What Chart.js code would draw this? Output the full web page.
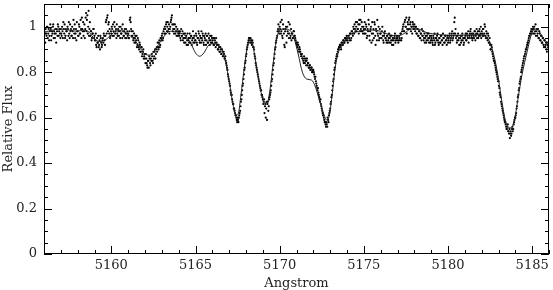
<!DOCTYPE html>
<html>
<head>
<meta charset="utf-8">
<script src="https://cdn.jsdelivr.net/npm/chart.js@4.4.1/dist/chart.umd.min.js"></script>
<style>
  html, body { margin: 0; padding: 0; background: #fff; }
  #wrap { width: 553px; height: 290px; position: relative; }
</style>
</head>
<body>
<div id="wrap"><canvas id="spectrum"></canvas></div>
<script>
// observed spectrum, two interleaved samplings every 0.05 A (one row per Angstrom)
const obsStep = 0.05;
const obsStartA = 5156.0;
const obsFluxA = [
  0.95,0.97,0.99,0.96,1.00,0.97,0.94,0.98,0.99,0.96,0.97,1.01,0.98,0.95,0.97,0.99,0.96,1.00,0.98,0.97, // 5156
  0.99,0.96,0.98,1.02,0.97,0.95,0.99,0.98,1.00,0.96,0.97,1.01,0.99,0.96,0.98,1.03,0.97,0.95,0.99,1.02, // 5157
  0.98,0.96,1.00,0.97,0.99,1.04,0.98,0.96,1.01,0.99,1.06,1.03,0.97,1.07,0.99,0.96,0.98,0.95,0.97,0.99, // 5158
  0.96,0.94,0.92,0.95,0.93,0.91,0.94,0.96,0.93,0.92,0.95,0.97,0.94,0.96,1.03,1.04,0.98,1.02,0.99,0.96, // 5159
  0.97,0.99,1.01,0.96,1.00,0.98,0.95,0.97,0.99,0.96,0.98,1.00,0.97,0.95,0.98,0.96,0.99,0.97,0.95,0.98, // 5160
  0.97,0.95,1.03,1.02,0.98,0.96,0.94,0.97,0.95,0.93,0.96,0.92,0.94,0.90,0.92,0.89,0.91,0.88,0.90,0.87, // 5161
  0.86,0.88,0.84,0.82,0.85,0.87,0.84,0.86,0.88,0.85,0.89,0.87,0.90,0.88,0.91,0.93,0.90,0.94,0.92,0.95, // 5162
  0.96,0.94,0.98,0.97,0.99,1.01,0.98,1.02,0.99,0.97,1.00,1.03,1.05,0.98,1.01,0.99,0.97,1.00,0.98,0.96, // 5163
  0.98,0.97,0.95,0.99,0.96,0.94,0.97,0.95,0.93,0.96,0.94,0.92,0.95,0.97,0.93,0.96,0.94,0.98,0.95,0.93, // 5164
  0.94,0.96,0.92,0.95,0.97,0.93,0.95,0.98,0.94,0.96,0.92,0.95,0.97,0.94,0.96,0.93,0.95,0.92,0.94,0.96, // 5165
  0.93,0.95,0.92,0.94,0.91,0.93,0.92,0.90,0.91,0.89,0.90,0.88,0.89,0.87,0.88,0.86,0.85,0.83,0.81,0.78, // 5166
  0.76,0.74,0.71,0.70,0.67,0.66,0.64,0.62,0.61,0.59,0.60,0.58,0.61,0.63,0.67,0.70,0.74,0.77,0.81,0.84, // 5167
  0.87,0.90,0.92,0.94,0.95,0.93,0.94,0.92,0.93,0.91,0.88,0.86,0.83,0.81,0.79,0.77,0.75,0.73,0.72,0.70, // 5168
  0.68,0.67,0.62,0.66,0.64,0.59,0.67,0.65,0.69,0.71,0.74,0.77,0.81,0.84,0.88,0.91,0.94,0.96,0.99,0.98, // 5169
  1.00,1.02,0.98,0.96,1.01,0.97,0.91,0.99,0.93,1.00,0.97,0.95,1.01,0.96,0.94,0.97,0.95,0.98,0.96,0.94, // 5170
  0.93,0.91,0.92,0.89,0.90,0.88,0.87,0.86,0.85,0.87,0.84,0.86,0.85,0.83,0.84,0.82,0.83,0.81,0.82,0.80, // 5171
  0.81,0.79,0.77,0.76,0.74,0.72,0.71,0.69,0.67,0.66,0.64,0.62,0.61,0.59,0.58,0.56,0.57,0.60,0.58,0.62, // 5172
  0.64,0.67,0.70,0.74,0.77,0.81,0.84,0.86,0.88,0.89,0.90,0.91,0.92,0.90,0.93,0.92,0.94,0.93,0.95,0.94, // 5173
  0.95,0.93,0.96,0.94,0.97,0.95,0.98,0.96,0.99,1.01,0.98,1.00,1.02,0.99,0.97,1.01,1.03,0.98,1.00,0.97, // 5174
  0.99,1.02,0.97,1.00,0.96,0.98,1.01,0.94,0.99,0.93,1.02,0.97,0.95,1.01,0.92,0.98,1.03,0.96,0.94,0.99, // 5175
  0.97,0.95,1.00,0.94,0.96,0.98,0.95,0.93,0.96,0.94,0.97,0.95,0.93,0.96,0.94,0.92,0.95,0.97,0.94,0.96, // 5176
  0.95,0.93,0.96,0.94,0.97,0.95,0.99,1.01,0.98,1.03,1.00,0.97,1.02,0.99,1.04,1.01,0.98,1.00,1.02,0.99, // 5177
  1.01,0.98,1.00,0.97,0.99,0.96,0.98,0.95,0.97,0.99,0.96,0.94,0.97,0.95,0.93,0.96,0.94,0.97,0.95,0.93, // 5178
  0.96,0.94,0.92,0.95,0.97,0.93,0.95,0.96,0.94,0.92,0.95,0.93,0.96,0.94,0.97,0.95,0.93,0.96,0.94,0.95, // 5179
  0.93,0.95,0.97,0.94,0.96,0.98,0.95,0.97,1.04,0.99,0.96,0.94,0.97,0.95,0.92,0.96,0.94,0.97,0.95,0.93, // 5180
  0.95,0.97,0.94,0.96,0.98,0.95,0.97,0.99,0.96,0.94,0.97,0.95,0.98,0.96,0.99,0.97,0.95,0.98,0.96,1.00, // 5181
  0.98,0.96,0.99,0.97,1.00,0.95,0.97,0.94,0.96,0.93,0.92,0.90,0.91,0.88,0.86,0.85,0.83,0.81,0.79,0.77, // 5182
  0.76,0.73,0.70,0.67,0.65,0.63,0.61,0.59,0.58,0.56,0.55,0.57,0.54,0.55,0.53,0.52,0.55,0.54,0.57,0.59, // 5183
  0.60,0.62,0.65,0.69,0.72,0.75,0.77,0.80,0.82,0.84,0.86,0.87,0.89,0.90,0.92,0.93,0.95,0.96,0.97,0.99, // 5184
  0.98,1.00,0.99,0.97,1.01,0.98,0.96,0.99,0.95,0.97,0.94,0.96,0.93,0.95,0.91,0.94,0.92,0.90,0.93,0.91, // 5185
  0.92
];
const obsStartB = 5156.025;
const obsFluxB = [
  0.98,0.93,0.97,1.00,0.95,0.99,0.96,1.01,0.94,0.98,1.00,0.95,0.97,0.99,0.93,0.98,1.01,0.96,0.99,0.95, // 5156
  0.97,1.00,0.95,0.99,1.01,0.96,0.98,0.94,0.99,1.02,0.95,0.98,0.96,1.00,0.95,0.99,1.01,0.97,0.94,0.98, // 5157
  0.96,1.01,0.97,1.03,0.95,0.99,1.02,0.98,0.95,1.04,0.98,1.05,1.00,0.96,1.02,0.98,0.94,0.97,0.99,0.95, // 5158
  0.94,0.97,0.91,0.93,0.96,0.92,0.90,0.95,0.91,0.94,0.93,0.96,0.92,1.02,0.97,1.05,1.01,0.97,0.95,0.98, // 5159
  1.00,0.96,0.98,1.02,0.97,0.99,1.01,0.96,0.98,1.00,0.95,0.97,0.99,1.01,0.96,0.98,0.95,0.99,0.97,0.96, // 5160
  0.95,0.98,1.04,0.99,0.96,0.98,0.95,0.93,0.96,0.94,0.91,0.95,0.91,0.93,0.89,0.91,0.87,0.89,0.86,0.88, // 5161
  0.84,0.86,0.83,0.85,0.82,0.86,0.83,0.85,0.87,0.84,0.86,0.89,0.86,0.90,0.89,0.91,0.93,0.91,0.95,0.94, // 5162
  0.97,0.95,0.99,1.00,0.97,1.02,1.00,0.98,1.01,0.99,1.02,1.04,1.01,0.99,0.97,1.01,0.98,0.96,0.99,0.97, // 5163
  0.96,0.98,0.94,0.96,0.98,0.95,0.93,0.97,0.95,0.92,0.97,0.94,0.93,0.95,0.96,0.92,0.95,0.93,0.96,0.94, // 5164
  0.97,0.93,0.95,0.98,0.94,0.96,0.93,0.95,0.97,0.93,0.96,0.94,0.92,0.96,0.93,0.97,0.94,0.96,0.93,0.95, // 5165
  0.94,0.92,0.95,0.93,0.95,0.92,0.90,0.92,0.89,0.91,0.88,0.90,0.87,0.89,0.86,0.87,0.84,0.82,0.79,0.77, // 5166
  0.75,0.72,0.70,0.68,0.66,0.64,0.63,0.61,0.60,0.58,0.59,0.60,0.62,0.65,0.68,0.72,0.75,0.79,0.82,0.85, // 5167
  0.88,0.91,0.93,0.95,0.94,0.95,0.93,0.94,0.91,0.90,0.87,0.84,0.82,0.80,0.78,0.76,0.74,0.72,0.70,0.69, // 5168
  0.66,0.68,0.65,0.60,0.67,0.66,0.63,0.68,0.70,0.72,0.76,0.79,0.83,0.86,0.90,0.93,0.95,0.98,1.01,0.97, // 5169
  0.99,0.97,1.03,0.95,0.99,0.92,0.98,1.00,0.96,0.98,1.02,0.97,0.95,0.99,0.97,0.95,0.98,0.96,0.95,0.93, // 5170
  0.92,0.93,0.90,0.91,0.89,0.87,0.88,0.86,0.84,0.86,0.85,0.83,0.86,0.84,0.82,0.83,0.81,0.82,0.80,0.81, // 5171
  0.80,0.78,0.78,0.75,0.73,0.73,0.70,0.68,0.68,0.65,0.63,0.61,0.60,0.58,0.57,0.58,0.56,0.59,0.61,0.63, // 5172
  0.66,0.69,0.72,0.76,0.79,0.82,0.85,0.87,0.87,0.90,0.91,0.92,0.91,0.93,0.92,0.94,0.93,0.95,0.94,0.96, // 5173
  0.94,0.96,0.95,0.97,0.94,0.98,0.97,1.00,0.97,0.99,1.02,0.98,0.99,1.01,1.03,0.98,0.99,1.02,0.98,1.00, // 5174
  0.97,0.99,1.01,0.95,0.99,1.03,0.96,0.98,1.00,0.97,0.94,0.99,1.02,0.96,0.99,0.94,0.97,1.00,0.95,0.97, // 5175
  0.95,0.98,0.96,0.93,0.97,0.95,0.94,0.96,0.93,0.95,0.93,0.96,0.94,0.92,0.95,0.94,0.96,0.93,0.95,0.94, // 5176
  0.96,0.94,0.95,0.97,0.94,0.98,1.00,0.98,1.02,1.00,1.04,0.99,1.01,1.03,0.99,1.02,1.00,0.97,1.01,1.00, // 5177
  0.99,1.00,0.97,0.99,0.96,0.98,0.95,0.97,0.94,0.96,0.98,0.95,0.93,0.96,0.94,0.97,0.95,0.93,0.96,0.94, // 5178
  0.95,0.93,0.96,0.94,0.92,0.95,0.94,0.97,0.93,0.95,0.93,0.96,0.94,0.92,0.95,0.93,0.96,0.94,0.92,0.96, // 5179
  0.94,0.96,0.93,0.95,0.97,0.94,0.96,1.02,0.97,0.95,0.93,0.96,0.94,0.92,0.95,0.93,0.96,0.94,0.92,0.95, // 5180
  0.96,0.94,0.97,0.95,0.93,0.96,0.98,0.95,0.97,0.95,0.96,0.98,0.94,0.97,0.95,0.98,0.96,0.99,0.97,0.95, // 5181
  0.97,0.99,0.96,1.01,0.96,0.98,0.95,0.97,0.93,0.95,0.90,0.92,0.89,0.87,0.85,0.84,0.82,0.80,0.78,0.76, // 5182
  0.74,0.71,0.69,0.66,0.64,0.62,0.60,0.58,0.57,0.55,0.56,0.54,0.53,0.51,0.54,0.53,0.56,0.55,0.58,0.60, // 5183
  0.61,0.64,0.67,0.70,0.73,0.76,0.78,0.81,0.83,0.85,0.87,0.88,0.90,0.91,0.93,0.94,0.96,0.97,0.98,0.97, // 5184
  0.99,0.97,1.00,0.98,0.96,0.99,0.97,0.95,0.98,0.94,0.96,0.93,0.95,0.92,0.94,0.91,0.93,0.89,0.92,0.90  // 5185
];

// model (synthetic) spectrum
const modelWave = [
  5156.0, 5156.5, 5157.0, 5157.5, 5158.0, 5158.3, 5158.7, 5159.0, 5159.3, 5159.7,
  5160.0, 5160.4, 5160.8, 5161.2, 5161.6, 5162.0, 5162.3, 5162.7, 5163.1, 5163.5,
  5164.0, 5164.4, 5164.7, 5165.0, 5165.25, 5165.5, 5165.8, 5166.1, 5166.4, 5166.6,
  5166.8, 5167.0, 5167.2, 5167.4, 5167.55, 5167.7, 5167.9, 5168.05, 5168.2, 5168.35,
  5168.5, 5168.7, 5168.9, 5169.1, 5169.25, 5169.4, 5169.6, 5169.8, 5170.0, 5170.3,
  5170.6, 5170.85, 5171.1, 5171.35, 5171.6, 5171.9, 5172.1, 5172.35, 5172.6, 5172.8,
  5172.95, 5173.1, 5173.3, 5173.5, 5173.8, 5174.2, 5174.7, 5175.5, 5176.0, 5176.5,
  5177.0, 5177.4, 5177.8, 5178.2, 5178.7, 5179.5, 5180.5, 5181.5, 5182.0, 5182.3,
  5182.55, 5182.8, 5183.0, 5183.2, 5183.4, 5183.6, 5183.75, 5183.95, 5184.15, 5184.4,
  5184.7, 5184.95, 5185.15, 5185.4, 5185.7, 5186.0
];
const modelFlux = [
  0.975, 0.985, 0.99, 0.985, 0.98, 0.985, 0.975, 0.945, 0.935, 0.945,
  0.965, 0.985, 0.975, 0.955, 0.92, 0.88, 0.875, 0.91, 0.955, 0.98,
  0.975, 0.96, 0.93, 0.885, 0.87, 0.885, 0.92, 0.925, 0.915, 0.895,
  0.84, 0.76, 0.67, 0.61, 0.62, 0.70, 0.82, 0.90, 0.94, 0.935,
  0.88, 0.79, 0.71, 0.665, 0.665, 0.71, 0.83, 0.94, 0.985, 0.99,
  0.985, 0.95, 0.88, 0.80, 0.77, 0.765, 0.74, 0.68, 0.62, 0.59,
  0.61, 0.69, 0.82, 0.89, 0.93, 0.965, 0.98, 0.985, 0.98, 0.965,
  0.96, 0.97, 0.99, 0.99, 0.975, 0.965, 0.962, 0.965, 0.965, 0.955,
  0.92, 0.85, 0.77, 0.67, 0.59, 0.555, 0.555, 0.59, 0.68, 0.79,
  0.89, 0.965, 0.99, 0.98, 0.945, 0.925
];

const xMajorTicks = [5160, 5165, 5170, 5175, 5180, 5185];
const yMajorTicks = [0, 0.2, 0.4, 0.6, 0.8, 1];

const obsPoints = obsFluxA.map((f, i) => ({ x: obsStartA + i * obsStep, y: f }))
  .concat(obsFluxB.map((f, i) => ({ x: obsStartB + i * obsStep, y: f })));
const modelPoints = modelWave.map((w, i) => ({ x: w, y: modelFlux[i] }));

const FONT = { family: "'DejaVu Serif', 'Liberation Serif', serif", size: 13 };
const INK = '#222';

// box frame with inward major/minor ticks on all four sides
const frameTicks = {
  id: 'frameTicks',
  afterDraw(chart) {
    const { ctx, chartArea: a, scales: { x, y } } = chart;
    ctx.save();
    ctx.strokeStyle = '#000';
    ctx.lineWidth = 1;
    ctx.strokeRect(a.left + 0.5, a.top + 0.5, a.right - a.left - 1, a.bottom - a.top - 1);
    ctx.beginPath();
    for (let v = 5156; v <= 5186; v++) {
      const len = v % 5 === 0 ? 8 : 4;
      const px = Math.round(x.getPixelForValue(v)) + 0.5;
      ctx.moveTo(px, a.bottom); ctx.lineTo(px, a.bottom - len);
      ctx.moveTo(px, a.top); ctx.lineTo(px, a.top + len);
    }
    for (let k = 0; k <= 22; k++) {
      const len = k % 4 === 0 ? 8 : 4;
      const py = Math.round(y.getPixelForValue(k * 0.05)) + 0.5;
      ctx.moveTo(a.left, py); ctx.lineTo(a.left + len, py);
      ctx.moveTo(a.right, py); ctx.lineTo(a.right - len, py);
    }
    ctx.stroke();
    ctx.restore();
  }
};

new Chart(document.getElementById('spectrum'), {
  type: 'scatter',
  data: {
    datasets: [
      {
        label: 'model',
        data: modelPoints,
        showLine: true,
        borderColor: INK,
        borderWidth: 1,
        pointRadius: 0,
        cubicInterpolationMode: 'monotone',
        order: 0
      },
      {
        label: 'observed',
        data: obsPoints,
        showLine: false,
        backgroundColor: '#000',
        pointRadius: 1.1,
        pointBorderWidth: 0,
        order: 1
      }
    ]
  },
  options: {
    responsive: true,
    maintainAspectRatio: false,
    animation: false,
    layout: { padding: { left: 1, right: 1, top: 1, bottom: 0 } },
    plugins: { legend: { display: false }, tooltip: { enabled: false } },
    scales: {
      x: {
        type: 'linear',
        min: 5156,
        max: 5186,
        afterFit: s => { s.height = 36; s.paddingLeft = 0; s.paddingRight = 0; },
        afterBuildTicks: s => { s.ticks = xMajorTicks.map(v => ({ value: v })); },
        grid: { display: false, drawTicks: false },
        border: { display: false },
        ticks: { font: FONT, color: INK, padding: 4, maxRotation: 0, callback: v => String(v) },
        title: { display: true, text: 'Angstrom', font: FONT, color: INK, padding: { top: 0, bottom: -1 } }
      },
      y: {
        min: 0,
        max: 1.1,
        afterFit: s => { s.width = 43; s.paddingTop = 0; s.paddingBottom = 0; },
        afterBuildTicks: s => { s.ticks = yMajorTicks.map(v => ({ value: v })); },
        grid: { display: false, drawTicks: false },
        border: { display: false },
        ticks: { font: FONT, color: INK, padding: 7, callback: v => String(+v.toFixed(2)) },
        title: { display: true, text: 'Relative Flux', font: FONT, color: INK, padding: 0 }
      }
    }
  },
  plugins: [frameTicks]
});
</script>
</body>
</html>
